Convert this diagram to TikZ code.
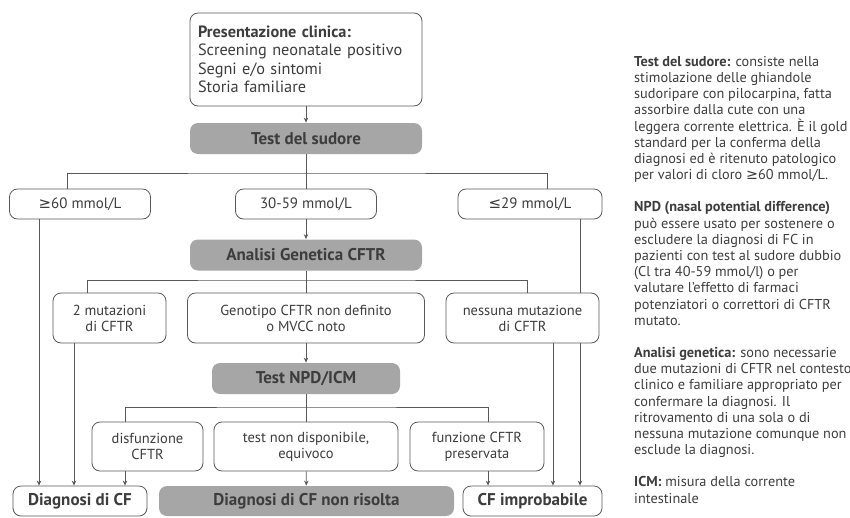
\documentclass[tikz,border=0pt]{standalone}
\usepackage{fontspec}
\setmainfont{PT Sans}
\newfontfamily\symfont{DejaVu Sans}
\newcommand{\gesym}{{\symfont ≥}}
\newcommand{\lesym}{{\symfont ≤}}
\usetikzlibrary{arrows.meta}
\tikzset{>={Stealth[length=5pt,width=4.5pt]}}
\definecolor{linegray}{gray}{0.35}
\definecolor{boxgray}{gray}{0.65}
\definecolor{txtgray}{gray}{0.24}
\tikzset{
  box/.style={draw=linegray, line width=0.8pt, rounded corners=8pt, fill=white, text=txtgray,
    align=center, inner sep=0pt, font=\fontsize{14.5}{16}\selectfont},
  valbox/.style={box, minimum height=30pt, font=\fontsize{15}{18}\selectfont},
  greybox/.style={box, draw=none, fill=boxgray, minimum height=31pt, font=\fontsize{17}{18}\selectfont\bfseries},
  endbox/.style={box, minimum height=30pt, font=\fontsize{17}{18}\selectfont\bfseries},
  conn/.style={draw=linegray, line width=0.8pt},
}

\begin{document}
\begin{tikzpicture}[x=1pt, y=-1pt]
    \clip (0,0) rectangle (850,517);
    % boxes
    \node[box, minimum width=232pt, minimum height=93pt, text width=216pt, align=left,
      font=\fontsize{16.3}{18.5}\selectfont] (pres) at (306,59.5)
      {\textbf{Presentazione clinica:}\\ Screening neonatale positivo\\ Segni e/o sintomi\\ Storia familiare};
    \node[greybox, minimum width=232pt] (sud) at (306,138.5) {Test del sudore};
    \node[valbox, minimum width=141pt] (geq) at (80,204) {\gesym60 mmol/L};
    \node[valbox, minimum width=141pt] (mid) at (306,204) {30-59 mmol/L};
    \node[valbox, minimum width=144pt] (leq) at (530,204) {\lesym29 mmol/L};
    \node[greybox, minimum width=232pt] (gen) at (306,255) {Analisi Genetica CFTR};
    \node[box, minimum width=113pt, minimum height=50pt] (mut2) at (109.5,318) {2 mutazioni\\ di CFTR};
    \node[box, minimum width=237pt, minimum height=50pt] (genotipo) at (306,318) {Genotipo CFTR non definito\\ o MVCC noto};
    \node[box, minimum width=153pt, minimum height=50pt] (nessuna) at (522.5,318) {nessuna mutazione\\ di CFTR};
    \node[greybox, minimum width=188pt] (npd) at (306,378.5) {Test NPD/ICM};
    \node[box, minimum width=111pt, minimum height=49pt] (disf) at (147.5,446.5) {disfunzione\\ CFTR};
    \node[box, minimum width=184pt, minimum height=49pt] (nondisp) at (306,446.5) {test non disponibile,\\ equivoco};
    \node[box, minimum width=134pt, minimum height=49pt] (funz) at (477,446.5) {funzione CFTR\\ preservata};
    \node[endbox, minimum width=134pt] (dcf) at (80,501) {Diagnosi di CF};
    \node[greybox, minimum width=295pt, minimum height=30pt] (nonris) at (306.5,501) {Diagnosi di CF non risolta};
    \node[endbox, minimum width=139pt] (improb) at (532.5,501) {CF improbabile};
    % connectors
    \coordinate (B1) at (306,173);
    \coordinate (B2) at (306,280);
    \coordinate (B3) at (306,407);
    \draw[conn,->] (pres) -- (sud);
    \draw[conn] (sud) -- (mid);
    \draw[conn] ([xshift=-13pt]geq.north) |- (B1) -| ([xshift=17pt]leq.north);
    \draw[conn,->] (mid) -- (gen);
    \draw[conn] (gen) -- (genotipo);
    \draw[conn] ([xshift=-22.5pt]mut2.north) |- (B2) -| ([xshift=4.5pt]nessuna.north);
    \draw[conn,->] (genotipo) -- (npd);
    \draw[conn] (npd) -- (nondisp);
    \draw[conn] ([xshift=-22.5pt]disf.north) |- (B3) -| ([xshift=11pt]funz.north);
    \draw[conn,->] (nondisp) -- (nonris);
    \foreach \n/\s in {geq/-41, mut2/-35.5, disf/-22.5}
      \draw[conn,->] ([xshift=\s pt]\n.south) -- ([xshift=\s pt]\n.south |- dcf.north);
    \foreach \n/\s in {funz/11, nessuna/30.5, nessuna/57.5}
      \draw[conn,->] ([xshift=\s pt]\n.south) -- ([xshift=\s pt]\n.south |- improb.north);
    \draw[conn] ([xshift=50pt]leq.south) -- ([xshift=50pt]leq.south |- nessuna.north);
    % notes
    \node[anchor=north west, align=left, inner sep=0pt, text=txtgray,
      font=\fontsize{14.3}{16.2}\selectfont] (notes) at (634,56)
      {\textbf{Test del sudore:} consiste nella\\
       stimolazione delle ghiandole\\
       sudoripare con pilocarpina, fatta\\
       assorbire dalla cute con una\\
       leggera corrente elettrica. È il gold\\
       standard per la conferma della\\
       diagnosi ed è ritenuto patologico\\
       per valori di cloro \gesym60 mmol/L.\\[16pt]
       \textbf{NPD (nasal potential difference)}\\
       può essere usato per sostenere o\\
       escludere la diagnosi di FC in\\
       pazienti con test al sudore dubbio\\
       (Cl tra 40-59 mmol/l) o per\\
       valutare l’effetto di farmaci\\
       potenziatori o correttori di CFTR\\
       mutato.\\[16pt]
       \textbf{Analisi genetica:} sono necessarie\\
       due mutazioni di CFTR nel contesto\\
       clinico e familiare appropriato per\\
       confermare la diagnosi. Il\\
       ritrovamento di una sola o di\\
       nessuna mutazione comunque non\\
       esclude la diagnosi.\\[16pt]
       \textbf{ICM:} misura della corrente\\
       intestinale};
\end{tikzpicture}
\end{document}
